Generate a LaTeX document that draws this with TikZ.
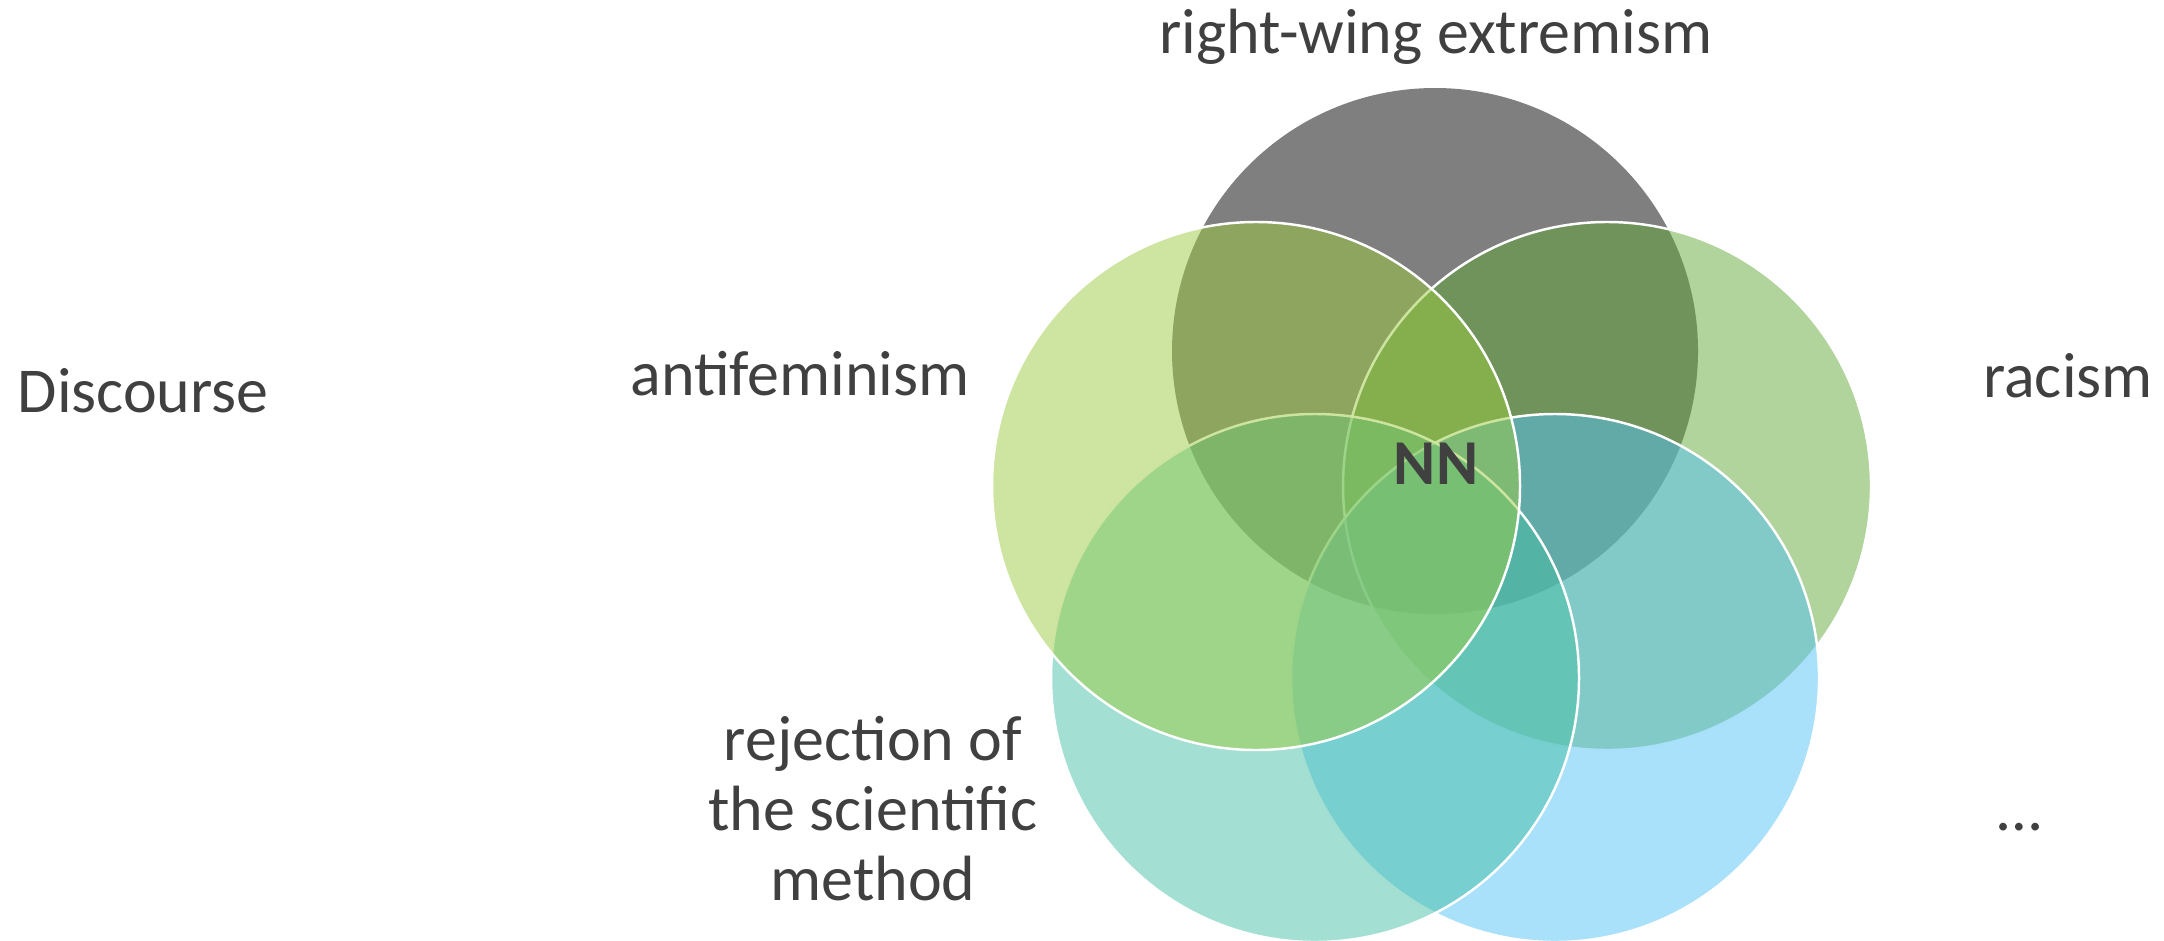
\documentclass[tikz,border=0pt]{standalone}
\usepackage{fontspec}
\setmainfont{Carlito}
\usepackage{tikz}
\usepackage{xcolor}

\definecolor{txtgray}{HTML}{404040}
\definecolor{vgray}{HTML}{7F7F7F}
\definecolor{vleft}{HTML}{9BCB41}
\definecolor{vright}{HTML}{63A739}
\definecolor{vbotl}{HTML}{47BFA5}
\definecolor{vbotr}{HTML}{53C1F5}

\begin{document}
\begin{tikzpicture}[x=0.1mm, y=-0.1mm, font=\fontsize{18.2}{19.9}\selectfont,
  lbl/.style={text=txtgray, inner sep=0pt},
  venn/.style={fill=#1, fill opacity=0.5, draw=white, draw opacity=1, line width=0.7pt}]
\useasboundingbox (0,0) rectangle (2164,940);
% the five sets, back to front
\fill[vgray] (1435,351) circle (263);
\draw[venn=vright] (1607,486) circle (264);
\draw[venn=vbotr] (1555,678) circle (264);
\draw[venn=vbotl] (1315,678) circle (264);
\draw[venn=vleft] (1256,486) circle (264);
% labels
\node[lbl, anchor=base west] (disc) at (17,412) {Discourse};
\node[lbl, anchor=base] (rwe) at (1436,54) {right-wing extremism};
\node[lbl, anchor=base] (anti) at (800,395) {antifeminism};
\node[lbl, anchor=base] (rac) at (2068,397) {racism};
\node[lbl, anchor=base, align=center] (rej) at (873,900) {rejection of\\the scientific\\method};
\node[lbl, anchor=base] (more) at (2020,830) {…};
\node[lbl, anchor=base, font=\fontsize{18.2}{19.9}\selectfont\bfseries] (nn) at (1436,484) {NN};
\end{tikzpicture}
\end{document}
